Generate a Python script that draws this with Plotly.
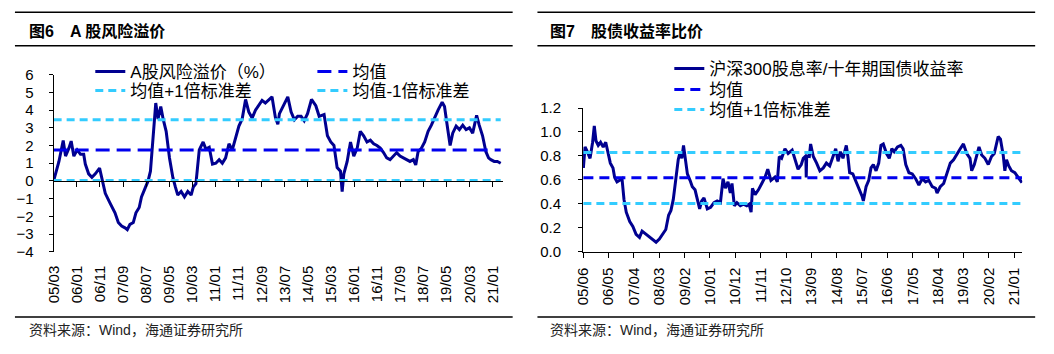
import plotly.graph_objects as go

# ---------------- data ----------------
erp_dates = [
    "2005-03-01", "2005-04-13", "2005-05-10", "2005-07-05", "2005-08-05", "2005-09-18", "2005-10-18",
    "2005-11-22", "2006-01-05", "2006-02-18", "2006-04-01", "2006-04-22", "2006-06-05", "2006-07-18",
    "2006-09-01", "2006-10-27", "2006-11-27", "2007-01-10", "2007-03-14", "2007-05-18", "2007-07-01",
    "2007-08-14", "2007-09-27", "2007-10-27", "2007-12-01", "2008-01-14", "2008-02-18", "2008-04-01",
    "2008-05-01", "2008-06-14", "2008-07-27", "2008-08-27", "2008-10-01", "2008-11-05", "2008-12-05",
    "2009-01-10", "2009-02-10", "2009-03-22", "2009-05-05", "2009-06-18", "2009-07-22", "2009-08-22",
    "2009-10-05", "2009-11-18", "2010-01-01", "2010-02-14", "2010-03-14", "2010-04-18", "2010-06-01",
    "2010-07-22", "2010-08-27", "2010-10-10", "2010-11-22", "2011-01-05", "2011-02-18", "2011-04-01",
    "2011-05-14", "2011-06-27", "2011-08-10", "2011-09-22", "2011-11-05", "2011-12-18", "2012-02-01",
    "2012-03-14", "2012-04-27", "2012-06-10", "2012-07-22", "2012-09-05", "2012-10-18", "2012-12-01",
    "2013-01-14", "2013-02-27", "2013-04-01", "2013-04-22", "2013-06-05", "2013-08-10", "2013-09-22",
    "2013-11-05", "2013-12-18", "2014-02-01", "2014-03-14", "2014-04-27", "2014-06-18", "2014-08-14",
    "2014-09-27", "2014-12-01", "2015-01-14", "2015-02-27", "2015-04-10", "2015-05-22", "2015-07-05",
    "2015-07-27", "2015-08-18", "2015-10-01", "2015-11-14", "2015-12-27", "2016-02-10", "2016-03-22",
    "2016-05-05", "2016-06-18", "2016-08-01", "2016-09-14", "2016-10-27", "2016-12-10", "2017-01-22",
    "2017-03-05", "2017-04-18", "2017-06-01", "2017-07-14", "2017-08-27", "2017-10-10", "2017-11-22",
    "2018-01-05", "2018-02-18", "2018-03-22", "2018-04-22", "2018-06-05", "2018-07-18", "2018-09-01",
    "2018-10-14", "2018-11-27", "2019-01-10", "2019-03-05", "2019-04-05", "2019-05-18", "2019-06-18",
    "2019-07-22", "2019-09-05", "2019-10-18", "2019-12-01", "2020-01-14", "2020-02-27", "2020-04-10",
    "2020-06-01", "2020-07-05", "2020-08-18", "2020-10-01", "2020-11-05", "2020-12-05", "2021-01-18",
    "2021-03-01", "2021-04-14",
]
erp_values = [
    0.0, 0.75, 1.1, 2.28, 1.4, 1.85, 2.25,
    1.4, 1.75, 1.5, 1.5, 0.95, 0.4, 0.2,
    0.4, 0.72, 0.2, -0.7, -1.25, -1.8, -2.35,
    -2.55, -2.65, -2.75, -2.45, -2.35, -1.8, -1.5,
    -0.9, -0.4, 0.0, 0.55, 2.4, 4.4, 3.5,
    4.2, 3.5, 2.8, 1.3, 0.2, -0.35, -0.8,
    -0.6, -0.9, -0.6, -0.8, -0.35, -0.15, 1.75,
    2.2, 1.8, 1.9, 0.95, 1.0, 1.2, 1.0,
    1.3, 2.1, 1.75, 2.4, 3.1, 3.5, 4.6,
    3.9, 3.55, 4.0, 4.3, 4.55, 4.4, 4.6,
    4.75, 3.6, 3.2, 3.8, 4.15, 4.75, 3.9,
    3.45, 3.65, 3.65, 3.4, 3.8, 4.6, 4.25,
    3.65, 3.75, 2.55, 2.2, 2.0, 0.75, 0.55,
    -0.6, 0.4, 1.1, 2.2, 1.4, 1.85, 2.8,
    2.55, 2.2, 2.3, 2.1, 2.0, 1.85, 1.6,
    1.3, 1.2, 1.4, 1.6, 1.4, 1.3, 1.2,
    1.1, 1.2, 0.9, 1.65, 1.85, 2.2, 2.8,
    3.15, 3.6, 4.0, 4.45, 4.2, 2.9, 2.0,
    2.7, 3.1, 2.9, 3.15, 2.9, 3.0, 2.7,
    3.7, 3.15, 2.55, 1.65, 1.3, 1.2, 1.1,
    1.1, 1.0,
]
erp_mean = 1.74
erp_plus1 = 3.46
erp_minus1 = 0.02

ratio_dates = [
    "2005-06-05", "2005-06-27", "2005-07-27", "2005-09-01", "2005-10-05", "2005-10-27", "2005-11-18",
    "2005-12-18", "2006-01-18", "2006-02-22", "2006-03-27", "2006-04-27", "2006-05-27", "2006-07-01",
    "2006-07-23", "2006-08-23", "2006-09-28", "2006-10-28", "2006-11-23", "2006-12-23", "2007-02-07",
    "2007-03-20", "2007-05-02", "2007-06-16", "2007-07-20", "2007-09-12", "2007-11-03", "2007-12-16",
    "2008-01-21", "2008-03-04", "2008-04-16", "2008-05-28", "2008-07-04", "2008-08-04", "2008-09-04",
    "2008-10-08", "2008-11-08", "2008-12-04", "2008-12-26", "2009-01-17", "2009-02-09", "2009-03-09",
    "2009-04-13", "2009-05-13", "2009-06-18", "2009-07-18", "2009-08-18", "2009-09-14", "2009-10-14",
    "2009-11-27", "2010-01-10", "2010-02-23", "2010-04-06", "2010-05-19", "2010-06-23", "2010-07-23",
    "2010-08-27", "2010-09-27", "2010-10-19", "2010-11-19", "2010-12-23", "2011-02-06", "2011-03-19",
    "2011-05-02", "2011-06-02", "2011-06-28", "2011-07-16", "2011-08-20", "2011-10-03", "2011-11-16",
    "2011-12-29", "2012-02-03", "2012-03-16", "2012-05-08", "2012-06-08", "2012-07-04", "2012-08-04",
    "2012-09-17", "2012-10-29", "2012-12-21", "2013-01-25", "2013-03-09", "2013-04-21", "2013-05-17",
    "2013-06-20", "2013-06-25", "2013-07-01", "2013-08-05", "2013-08-22", "2013-09-26", "2013-11-09",
    "2013-12-22", "2014-02-05", "2014-03-18", "2014-05-01", "2014-06-14", "2014-07-19", "2014-08-19",
    "2014-09-19", "2014-10-23", "2014-12-06", "2014-12-27", "2015-01-19", "2015-03-02", "2015-04-15",
    "2015-05-28", "2015-07-02", "2015-07-19", "2015-08-24", "2015-09-28", "2015-10-28", "2015-11-28",
    "2016-01-03", "2016-02-07", "2016-03-07", "2016-04-07", "2016-05-20", "2016-06-25", "2016-07-29",
    "2016-08-29", "2016-10-12", "2016-11-25", "2016-12-25", "2017-01-29", "2017-03-12", "2017-04-25",
    "2017-06-08", "2017-07-21", "2017-09-04", "2017-10-17", "2017-11-29", "2018-01-13", "2018-02-26",
    "2018-03-18", "2018-04-29", "2018-06-13", "2018-07-26", "2018-09-09", "2018-10-22", "2018-12-05",
    "2019-01-18", "2019-03-01", "2019-04-14", "2019-05-27", "2019-06-18", "2019-07-23", "2019-08-23",
    "2019-09-23", "2019-10-28", "2019-12-10", "2020-01-23", "2020-03-06", "2020-04-11", "2020-05-11",
    "2020-06-02", "2020-07-02", "2020-08-07", "2020-08-29", "2020-09-20", "2020-10-20", "2020-11-24",
    "2021-01-08", "2021-02-21", "2021-04-12",
]
ratio_values = [
    0.70, 0.875, 0.835, 0.78, 0.914, 1.05, 0.927,
    0.888, 0.914, 0.875, 0.914, 0.835, 0.74, 0.70,
    0.62, 0.583, 0.596, 0.61, 0.437, 0.33, 0.252,
    0.212, 0.146, 0.12, 0.172, 0.146, 0.12, 0.093,
    0.08, 0.106, 0.146, 0.186, 0.305, 0.345, 0.437,
    0.62, 0.768, 0.835, 0.78, 0.888, 0.768, 0.65,
    0.596, 0.543, 0.517, 0.437, 0.358, 0.424, 0.45,
    0.358, 0.371, 0.41, 0.424, 0.41, 0.61, 0.53,
    0.583, 0.49, 0.57, 0.384, 0.41, 0.384, 0.397,
    0.384, 0.397, 0.33, 0.53, 0.477, 0.517, 0.57,
    0.623, 0.689, 0.596, 0.623, 0.583, 0.795, 0.78,
    0.86, 0.82, 0.848, 0.768, 0.689, 0.728, 0.78,
    0.80, 0.62, 0.80, 0.795, 0.90, 0.795, 0.74,
    0.676, 0.70, 0.74, 0.716, 0.808, 0.86, 0.755,
    0.835, 0.78, 0.888, 0.795, 0.66, 0.65, 0.583,
    0.53, 0.464, 0.424, 0.543, 0.596, 0.70, 0.728,
    0.676, 0.74, 0.888, 0.90, 0.82, 0.78, 0.86,
    0.835, 0.875, 0.888, 0.86, 0.728, 0.66, 0.65,
    0.61, 0.557, 0.61, 0.583, 0.596, 0.543, 0.53,
    0.49, 0.543, 0.57, 0.66, 0.74, 0.768, 0.82,
    0.86, 0.90, 0.82, 0.78, 0.676, 0.728, 0.795,
    0.875, 0.808, 0.78, 0.728, 0.795, 0.82, 0.914,
    0.962, 0.94, 0.808, 0.676, 0.768, 0.716, 0.676,
    0.66, 0.623, 0.576,
]
ratio_mean = 0.617
ratio_plus1 = 0.829
ratio_minus1 = 0.403

erp_tickvals = ["2005-03-01", "2006-01-01", "2006-11-01", "2007-09-01", "2008-07-01", "2009-05-01",
                "2010-03-01", "2011-01-01", "2011-11-01", "2012-09-01", "2013-07-01", "2014-05-01",
                "2015-03-01", "2016-01-01", "2016-11-01", "2017-09-01", "2018-07-01", "2019-05-01",
                "2020-03-01", "2021-01-01"]
erp_ticktext = ["05/03", "06/01", "06/11", "07/09", "08/07", "09/05", "10/03", "11/01", "11/11", "12/09",
                "13/07", "14/05", "15/03", "16/01", "16/11", "17/09", "18/07", "19/05", "20/03", "21/01"]
ratio_tickvals = ["2005-06-01", "2006-05-01", "2007-04-01", "2008-03-01", "2009-02-01", "2010-01-01",
                  "2010-12-01", "2011-11-01", "2012-10-01", "2013-09-01", "2014-08-01", "2015-07-01",
                  "2016-06-01", "2017-05-01", "2018-04-01", "2019-03-01", "2020-02-01", "2021-01-01"]
ratio_ticktext = ["05/06", "06/05", "07/04", "08/03", "09/02", "10/01", "10/12", "11/11", "12/10",
                  "13/09", "14/08", "15/07", "16/06", "17/05", "18/04", "19/03", "20/02", "21/01"]

# ---------------- style ----------------
W, H = 1054, 354
FONT = "Liberation Sans, Arial, Noto Sans CJK SC, sans-serif"
NAVY = "#000090"
BLUE = "#0000EE"
CYAN = "#33CCFF"


def fx(px):
    return px / W


def fy(py):
    return 1 - py / H


fig = go.Figure()

# left chart
fig.add_trace(go.Scatter(x=erp_dates, y=erp_values, mode="lines", name="A股风险溢价（%）",
                         line=dict(color=NAVY, width=3), xaxis="x", yaxis="y", legend="legend"))
span_l = [erp_dates[0], erp_dates[-1]]
fig.add_trace(go.Scatter(x=span_l, y=[erp_mean] * 2, mode="lines", name="均值",
                         line=dict(color=BLUE, width=3, dash="14px,7px"), xaxis="x3", yaxis="y",
                         legend="legend3"))
fig.add_trace(go.Scatter(x=span_l, y=[erp_plus1] * 2, mode="lines", name="均值+1倍标准差",
                         line=dict(color=CYAN, width=3, dash="8px,5px"), xaxis="x3", yaxis="y",
                         legend="legend2"))
fig.add_trace(go.Scatter(x=span_l, y=[erp_minus1] * 2, mode="lines", name="均值-1倍标准差",
                         line=dict(color=CYAN, width=3, dash="8px,5px"), xaxis="x3", yaxis="y",
                         legend="legend4"))

# right chart
fig.add_trace(go.Scatter(x=ratio_dates, y=ratio_values, mode="lines", name="沪深300股息率/十年期国债收益率",
                         line=dict(color=NAVY, width=3), xaxis="x2", yaxis="y2", legend="legend5"))
span_r = [ratio_dates[0], ratio_dates[-1]]
fig.add_trace(go.Scatter(x=span_r, y=[ratio_mean] * 2, mode="lines", name="均值",
                         line=dict(color=BLUE, width=3, dash="10px,6px"), xaxis="x2", yaxis="y2",
                         legend="legend6"))
fig.add_trace(go.Scatter(x=span_r, y=[ratio_plus1] * 2, mode="lines", name="均值+1倍标准差",
                         line=dict(color=CYAN, width=3, dash="8px,5px"), xaxis="x2", yaxis="y2",
                         legend="legend7"))
fig.add_trace(go.Scatter(x=span_r, y=[ratio_minus1] * 2, mode="lines", name="均值-1倍标准差",
                         line=dict(color=CYAN, width=3, dash="8px,5px"), xaxis="x2", yaxis="y2",
                         showlegend=False))

tickfont = dict(family=FONT, size=15, color="black")
ydom_l = [fy(255), fy(69)]
zero_pos = ydom_l[0] + 0.4 * (ydom_l[1] - ydom_l[0])
xrange_l = ["2005-02-28 18:00", "2021-05-11"]
xrange_r = ["2005-05-31 18:00", "2021-04-16"]


def leg(text_x, center_y):
    return dict(x=fx(text_x - 44), y=fy(center_y), xanchor="left", yanchor="middle",
                bgcolor="rgba(0,0,0,0)", font=dict(family=FONT, size=17, color="black"))


fig.update_layout(
    width=W, height=H, margin=dict(l=0, r=0, t=0, b=0),
    paper_bgcolor="white", plot_bgcolor="rgba(0,0,0,0)",
    font=dict(family=FONT, size=15, color="black"),
    xaxis=dict(domain=[fx(45), fx(498)], anchor="y", type="date", range=xrange_l,
               tickmode="array", tickvals=erp_tickvals, ticktext=erp_ticktext, tickangle=-90,
               showline=False, showgrid=False, zeroline=False, ticks="", ticklabelstandoff=10,
               tickfont=tickfont),
    xaxis3=dict(overlaying="x", anchor="free", position=zero_pos, type="date", range=xrange_l,
                tickmode="array", tickvals=erp_tickvals, showticklabels=False,
                showline=True, linecolor="black", linewidth=1, ticks="outside", ticklen=5,
                tickcolor="black", showgrid=False, zeroline=False),
    yaxis=dict(domain=ydom_l, anchor="x", range=[-4, 6], dtick=1, tick0=0,
               showline=True, linecolor="black", linewidth=1, ticks="outside", ticklen=4,
               tickcolor="black", showgrid=False, zeroline=False, ticklabelstandoff=12,
               tickfont=tickfont),
    xaxis2=dict(domain=[fx(579), fx(1022)], anchor="y2", type="date", range=xrange_r,
                tickmode="array", tickvals=ratio_tickvals, ticktext=ratio_ticktext, tickangle=-90,
                showline=True, linecolor="black", linewidth=1, ticks="outside", ticklen=5,
                tickcolor="black", showgrid=False, zeroline=False, ticklabelstandoff=4,
                tickfont=tickfont),
    yaxis2=dict(domain=[fy(255), fy(104)], anchor="x2", range=[0, 1.2], dtick=0.2, tick0=0,
                tickformat=".1f", showline=True, linecolor="black", linewidth=1, ticks="outside",
                ticklen=4, tickcolor="black", showgrid=False, zeroline=False,
                ticklabelstandoff=14, tickfont=tickfont),
    legend=leg(126, 66),
    legend2=leg(126, 86),
    legend3=leg(350, 66),
    legend4=leg(350, 86),
    legend5=leg(710, 63),
    legend6=leg(710, 85),
    legend7=leg(710, 106),
)

# panel decorations: title rules, titles, source notes
shapes = []
for x0, x1 in [(6, 508), (533, 1035)]:
    for yy in (3.5, 38.5, 323.5):
        shapes.append(dict(type="line", xref="paper", yref="paper", x0=fx(x0), x1=fx(x1),
                           y0=fy(yy), y1=fy(yy), line=dict(color="black", width=1.5)))
fig.update_layout(shapes=shapes)

titles = [(18, "图6\u3000A 股风险溢价"), (544, "图7\u3000股债收益率比价")]
for x0, t in titles:
    fig.add_annotation(x=fx(x0), y=fy(23.5), xref="paper", yref="paper", xanchor="left", yanchor="middle",
                       text="<b>" + t + "</b>", showarrow=False,
                       font=dict(family=FONT, size=16, color="black"))
for x0 in [18, 544]:
    fig.add_annotation(x=fx(x0), y=fy(337), xref="paper", yref="paper", xanchor="left", yanchor="middle",
                       text="资料来源：Wind，海通证券研究所", showarrow=False,
                       font=dict(family=FONT, size=14, color="#222222"))

fig.write_html("out.html")
